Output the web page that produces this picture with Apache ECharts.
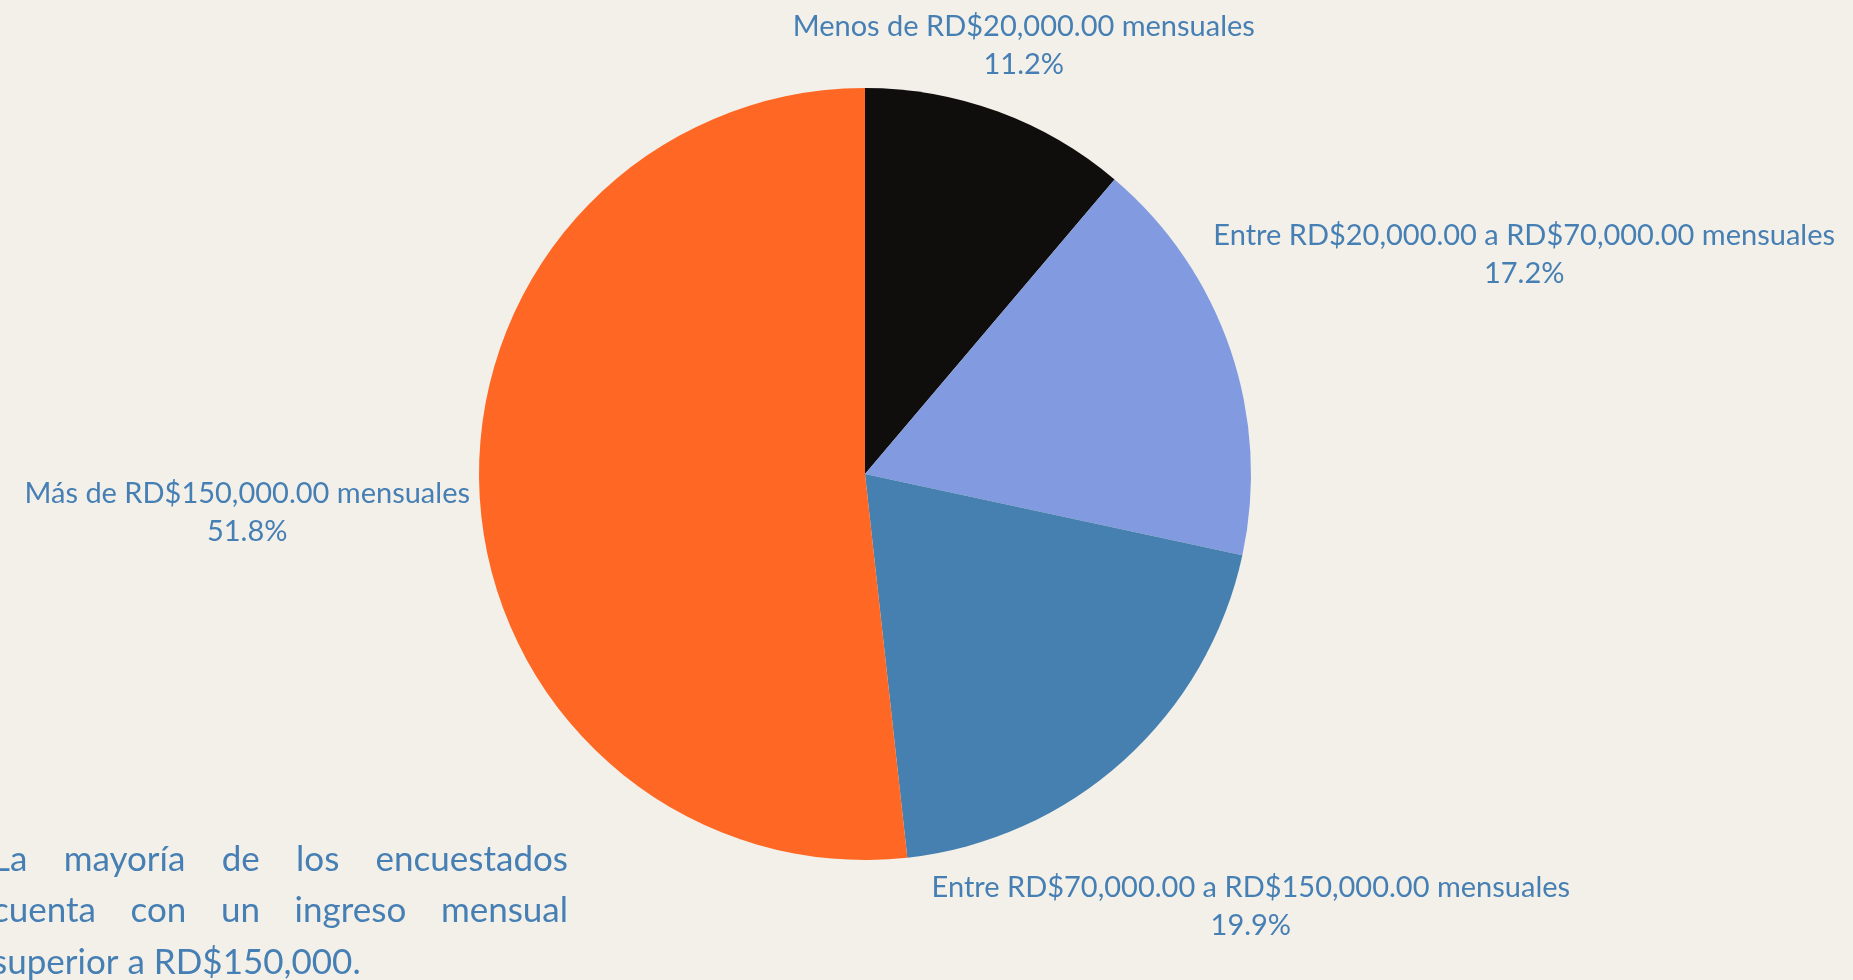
<!DOCTYPE html>
<html>
<head>
<meta charset="utf-8">
<script src="https://cdn.jsdelivr.net/npm/echarts@6/dist/echarts.min.js"></script>
<style>
html,body{margin:0;padding:0;background:#f3f0e9;}
#chart{width:1853px;height:980px;}
</style>
</head>
<body>
<div id="chart"></div>
<script>
// ---- data ----
const categories = [
  'Menos de RD$20,000.00 mensuales',
  'Entre RD$20,000.00 a RD$70,000.00 mensuales',
  'Entre RD$70,000.00 a RD$150,000.00 mensuales',
  'Más de RD$150,000.00 mensuales'
];
const values = [11.2, 17.2, 19.9, 51.8];
const colors = ['#0f0e0c', '#829ae0', '#4680b0', '#ff6824'];
const noteLines = [
  'La mayoría de los encuestados',
  'cuenta con un ingreso mensual',
  'superior a RD$150,000.'
];

// ---- layout ----
const W = 1853, H = 980;
const CX = 865, CY = 474, R = 386, GAP = 9, LABEL_DY = 5;
const textColor = '#467fb4';
const fontFamily = 'Lato, "Noto Sans", sans-serif';

const chart = echarts.init(document.getElementById('chart'), null, {renderer: 'canvas'});

const total = values.reduce((a, b) => a + b, 0);

function placeLabel(p) {
  const i = p.dataIndex;
  let start = 0;
  for (let k = 0; k < i; k++) start += values[k];
  const mid = (start + values[i] / 2) / total * Math.PI * 2;
  const ux = Math.sin(mid), uy = -Math.cos(mid);
  const w = p.labelRect.width, h = p.labelRect.height;
  function minDist(t) {
    const bx = CX + ux * t, by = CY + uy * t;
    const nx = Math.min(Math.max(CX, bx - w / 2), bx + w / 2);
    const ny = Math.min(Math.max(CY, by - h / 2), by + h / 2);
    return Math.hypot(nx - CX, ny - CY);
  }
  let lo = 0, hi = 3000;
  for (let n = 0; n < 60; n++) {
    const m = (lo + hi) / 2;
    if (minDist(m) < R + GAP) lo = m; else hi = m;
  }
  return {x: CX + ux * hi, y: CY + uy * hi + LABEL_DY, align: 'center', verticalAlign: 'middle'};
}

// justified note text built from words
const ctx = document.createElement('canvas').getContext('2d');
const noteFont = '35px ' + fontFamily;
ctx.font = noteFont;
const noteLeft = -8, noteRight = 568, noteTop0 = 842, noteStep = 51.5;
const noteGraphics = [];
noteLines.forEach((line, li) => {
  const words = line.split(' ');
  const widths = words.map(w => ctx.measureText(w).width);
  const sumW = widths.reduce((a, b) => a + b, 0);
  const justify = li < noteLines.length - 1 && words.length > 1;
  const gap = justify ? (noteRight - noteLeft - sumW) / (words.length - 1) : ctx.measureText(' ').width;
  let x = noteLeft;
  words.forEach((w, wi) => {
    noteGraphics.push({
      type: 'text',
      x: x,
      y: noteTop0 + li * noteStep,
      style: {
        text: w,
        fill: textColor,
        font: noteFont,
        verticalAlign: 'top',
        align: 'left'
      }
    });
    x += widths[wi] + gap;
  });
});

chart.setOption({
  backgroundColor: '#f3f0e9',
  animation: false,
  color: colors,
  graphic: noteGraphics,
  series: [{
    type: 'pie',
    center: [CX, CY],
    radius: R,
    startAngle: 90,
    clockwise: true,
    avoidLabelOverlap: false,
    itemStyle: {borderWidth: 0},
    label: {
      show: true,
      position: 'outside',
      formatter: p => p.name + '\n' + p.value.toFixed(1) + '%',
      color: textColor,
      fontFamily: fontFamily,
      fontSize: 29,
      lineHeight: 38,
      align: 'center'
    },
    labelLine: {show: false, length: 10, length2: 0},
    labelLayout: placeLabel,
    emphasis: {disabled: true},
    data: categories.map((c, i) => ({name: c, value: values[i]}))
  }]
});
</script>
</body>
</html>
